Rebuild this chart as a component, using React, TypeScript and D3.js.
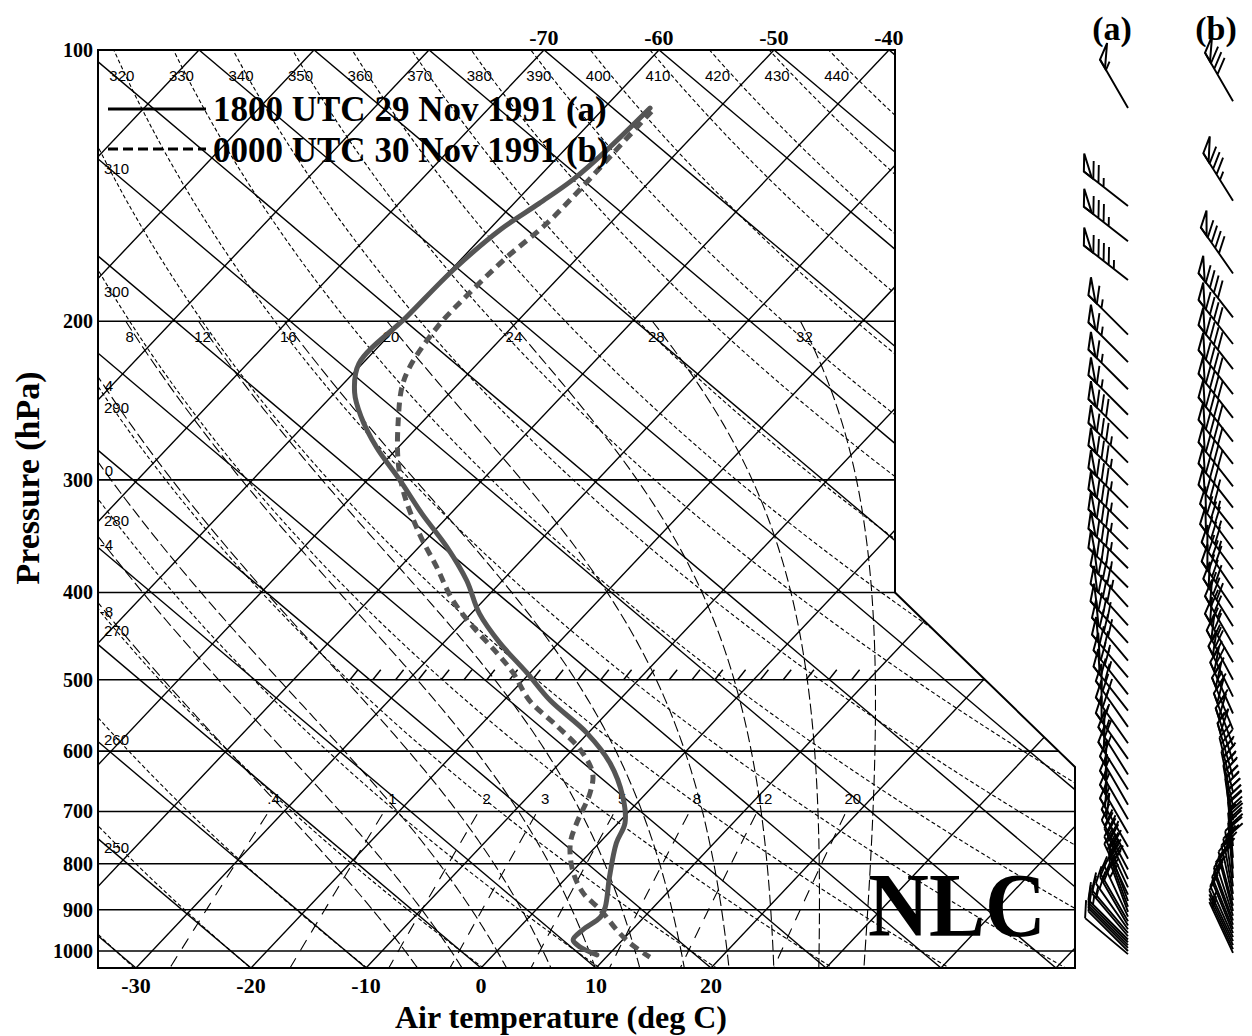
import * as d3 from 'd3';

// ---- sounding data ----
const pressureA = [116, 129, 139, 148, 158, 175, 198, 223, 240, 255, 276, 300, 327, 356, 388, 422, 455, 491, 527, 573, 619, 675, 721, 759, 828, 894, 917, 948, 972, 990, 1010];
const tempA = [-56.0, -56.3, -56.8, -57.8, -59.0, -59.8, -60.0, -60.3, -58.3, -55.8, -51.9, -47.2, -42.5, -37.6, -33.1, -29.3, -25.1, -20.3, -16.0, -10.1, -5.6, -1.7, 0.6, 1.5, 3.7, 5.8, 6.2, 5.7, 5.7, 6.9, 9.0];
const pressureB = [117, 130, 143, 156, 170, 186, 203, 225, 237, 257, 285, 310, 344, 375, 408, 437, 467, 491, 527, 561, 598, 635, 668, 721, 759, 813, 862, 900, 948, 980, 1016];
const tempB = [-55.6, -55.5, -55.4, -55.5, -56.2, -56.5, -56.5, -55.6, -54.6, -52.3, -49.0, -45.8, -41.1, -36.8, -32.7, -28.7, -24.5, -21.5, -17.8, -13.5, -9.3, -6.3, -4.9, -3.6, -2.5, -0.1, 2.7, 5.6, 8.7, 10.9, 13.8];

// winds (a) 1800 UTC and (b) 0000 UTC: pressure, direction (deg), speed (kt)
const windPA = [116, 149, 163, 180, 207, 222, 238, 254, 270, 287, 304, 322, 340, 358, 376, 395, 415, 435, 455, 476, 497, 519, 541, 564, 588, 612, 637, 662, 688, 714, 740, 766, 790, 812, 832, 850, 866, 880, 893, 905, 916, 927, 937, 946, 955, 963, 971, 978, 985, 992, 1000, 1008];
const windDirA = [330, 308, 308, 308, 315, 315, 315, 315, 315, 315, 315, 315, 315, 315, 315, 315, 318, 318, 318, 320, 320, 322, 322, 325, 325, 325, 328, 328, 330, 330, 330, 330, 332, 332, 335, 335, 335, 340, 340, 340, 335, 330, 330, 325, 320, 320, 315, 315, 315, 315, 315, 310];
const windSpdA = [55, 75, 85, 95, 65, 65, 65, 65, 80, 85, 85, 85, 85, 85, 85, 85, 85, 80, 80, 80, 75, 75, 70, 70, 65, 65, 60, 60, 55, 55, 55, 50, 50, 45, 40, 35, 30, 30, 25, 25, 25, 20, 20, 20, 15, 15, 15, 10, 10, 10, 10, 10];
const windPB = [114, 147, 177, 198, 212, 226, 241, 256, 272, 288, 305, 322, 340, 358, 377, 396, 416, 436, 457, 478, 500, 522, 545, 568, 592, 616, 641, 666, 691, 716, 741, 765, 788, 810, 830, 848, 864, 878, 891, 903, 914, 925, 935, 945, 955, 965, 975, 985, 995, 1005];
const windDirB = [330, 328, 325, 322, 322, 322, 322, 322, 322, 322, 322, 322, 322, 324, 324, 326, 326, 328, 330, 330, 332, 334, 336, 338, 340, 342, 344, 346, 348, 350, 352, 354, 355, 355, 355, 352, 350, 348, 345, 345, 342, 340, 340, 338, 338, 336, 335, 335, 335, 335];
const windSpdB = [80, 85, 90, 90, 90, 90, 90, 90, 90, 90, 90, 85, 85, 85, 85, 80, 80, 80, 75, 75, 70, 70, 65, 60, 60, 55, 50, 45, 45, 40, 40, 35, 35, 30, 30, 25, 25, 20, 20, 15, 15, 15, 10, 10, 10, 10, 10, 5, 5, 5];

// ---- chart furniture ----
const isobarLevels = [100, 200, 300, 400, 500, 600, 700, 800, 900, 1000];
const bottomTempTicks = [-30, -20, -10, 0, 10, 20];
const topTempTicks = [-70, -60, -50, -40];
const thetaLines = [240, 250, 260, 270, 280, 290, 300, 310, 320, 330, 340, 350, 360, 370, 380, 390, 400, 410, 420, 430, 440];
const thetaTopLabels = [320, 330, 340, 350, 360, 370, 380, 390, 400, 410, 420, 430, 440];
const thetaLeftLabels = [250, 260, 270, 280, 290, 300, 310];
const thetaWTop = [8, 12, 16, 20, 24, 28, 32];
const thetaWLeft = [-8, -4, 0, 4];
const mixRatios = [0.4, 1, 2, 3, 5, 8, 12, 20];

const W = 1252, H = 1036;
const X0 = 98, XR1 = 895, XR2 = 1075, YT = 50, YB = 968, YSTEP2 = 767;
const SKEW = 0.9455, SKEW2 = 1.184;
const yP = d3.scaleLog().domain([100, 1000]).range([50, 951]);
const xT = d3.scaleLinear().domain([-30, 20]).range([136, 711]);
const YSTEP = yP(400);
const P_BOT = yP.invert(YB);
const xy = (T: number, p: number): [number, number] => {
  const y = yP(p);
  return [xT(T) + SKEW * (YB - y), y];
};
const rightEdge = (y: number) =>
  y <= YSTEP ? XR1 : y >= YSTEP2 ? XR2 : XR1 + ((y - YSTEP) * (XR2 - XR1)) / (YSTEP2 - YSTEP);
const boundary: [number, number][] = [[X0, YT], [XR1, YT], [XR1, YSTEP], [XR2, YSTEP2], [XR2, YB], [X0, YB]];

const serif = "'Liberation Serif', 'Times New Roman', serif";
const sans = "'Liberation Sans', Arial, sans-serif";
const line = d3.line<[number, number]>();

function esat(tc: number) {
  return 6.112 * Math.exp((17.67 * tc) / (tc + 243.5));
}
function dTdp(T: number, p: number) {
  const Rd = 287.04, Cp = 1005.7, Lv = 2.501e6, eps = 0.622;
  const es = esat(T - 273.15);
  const rs = (eps * es) / (p - es);
  return ((Rd * T + Lv * rs) / p) / (Cp + (Lv * Lv * rs * eps) / (Rd * T * T));
}
function rk(T: number, p: number, h: number) {
  const k1 = dTdp(T, p);
  const k2 = dTdp(T + (h * k1) / 2, p + h / 2);
  const k3 = dTdp(T + (h * k2) / 2, p + h / 2);
  const k4 = dTdp(T + h * k3, p + h);
  return T + (h * (k1 + 2 * k2 + 2 * k3 + k4)) / 6;
}
function moistPts(tw: number): [number, number][] {
  const up: [number, number][] = [];
  let T = tw + 273.15, p = 1000;
  up.push([T, p]);
  while (p > 200.01) { T = rk(T, p, -5); p -= 5; up.push([T, p]); }
  const down: [number, number][] = [];
  T = tw + 273.15; p = 1000;
  while (p < P_BOT + 5) { T = rk(T, p, 5); p += 5; down.push([T, p]); }
  return [...up.reverse(), ...down].map(([t, pp]) => xy(t - 273.15, pp));
}
function dryPts(theta: number): [number, number][] {
  const pts: [number, number][] = [];
  for (let p = 95; p <= P_BOT + 5; p += 5) pts.push(xy(theta * Math.pow(p / 1000, 0.2857) - 273.15, p));
  return pts;
}
function tdFromW(w: number, p: number) {
  const e = (w * p) / (622 + w);
  const a = Math.log(e / 6.112);
  return (243.5 * a) / (17.67 - a);
}
function leftCross(pts: [number, number][]) {
  for (let i = 1; i < pts.length; i++) {
    if (pts[i - 1][0] < X0 && pts[i][0] >= X0) {
      const f = (X0 - pts[i - 1][0]) / (pts[i][0] - pts[i - 1][0]);
      return pts[i - 1][1] + f * (pts[i][1] - pts[i - 1][1]);
    }
  }
  return YT;
}

function Barb({ bx, by, dir, spd }: { bx: number; by: number; dir: number; spd: number }) {
  const r = (dir * Math.PI) / 180;
  const sx = Math.sin(r), sy = -Math.cos(r);
  const px = -sy, py = sx;
  const L = 56, bl = 18, gap = 6.5;
  const vx = (0.8 * px + 0.6 * sx) * bl, vy = (0.8 * py + 0.6 * sy) * bl;
  const at = (d: number) => [bx + sx * d, by + sy * d];
  let d = L;
  let rem = Math.round(spd / 5) * 5;
  let segs = `M${bx},${by}L${at(L).join(',')}`;
  const polys: string[] = [];
  while (rem >= 50) {
    const [ax, ay] = at(d);
    const [cx, cy] = at(d - 10);
    polys.push(`${ax},${ay} ${ax + vx},${ay + vy} ${cx},${cy}`);
    d -= 12;
    rem -= 50;
  }
  while (rem >= 10) {
    const [ax, ay] = at(d);
    segs += `M${ax},${ay}l${vx},${vy}`;
    d -= gap;
    rem -= 10;
  }
  if (rem >= 5) {
    if (d === L) d -= gap;
    const [ax, ay] = at(d);
    segs += `M${ax},${ay}l${vx / 2},${vy / 2}`;
  }
  return (
    <g>
      <path d={segs} fill="none" stroke="#000" strokeWidth={1.9} />
      {polys.map((pt, i) => (
        <polygon key={i} points={pt} fill="none" stroke="#000" strokeWidth={2} />
      ))}
    </g>
  );
}

export default function App() {
  const isoT = d3.range(-110, 60, 10);
  const downT = d3.range(-30, 140, 10);
  const profA = pressureA.map((p, i) => xy(tempA[i], p));
  const profB = pressureB.map((p, i) => xy(tempB[i], p));
  const curve = d3.line<[number, number]>().curve(d3.curveCatmullRom.alpha(0.5));
  const y500 = yP(500);
  const hatchX = d3.range(350, 866, 22.8);

  return (
    <div style={{ position: 'absolute', left: 0, top: 0 }}>
      <svg width={W} height={H} style={{ display: 'block', background: '#fff' }}>
        <defs>
          <clipPath id="plot">
            <polygon points={boundary.map((b) => b.join(',')).join(' ')} />
          </clipPath>
        </defs>
        <g clipPath="url(#plot)" fill="none" stroke="#000">
          {/* isobars */}
          {isobarLevels.slice(1).map((p) => (
            <line key={p} x1={X0} x2={rightEdge(yP(p))} y1={yP(p)} y2={yP(p)} strokeWidth={1.6} />
          ))}
          {/* isotherms */}
          {isoT.map((t) => (
            <line key={'it' + t} x1={xT(t)} y1={YB} x2={xT(t) + SKEW * (YB - YT)} y2={YT} strokeWidth={1.4} />
          ))}
          {/* cross lines */}
          {downT.map((t) => (
            <line key={'dt' + t} x1={xT(t)} y1={YB} x2={xT(t) - SKEW2 * (YB - YT)} y2={YT} strokeWidth={1.4} />
          ))}
          {/* dry adiabats */}
          {thetaLines.map((th) => (
            <path key={'th' + th} d={line(dryPts(th)) || ''} strokeWidth={1.1} strokeDasharray="4,2.5" />
          ))}
          {/* moist adiabats */}
          {[...thetaWLeft, ...thetaWTop].map((tw) => (
            <path key={'tw' + tw} d={line(moistPts(tw)) || ''} strokeWidth={1.1} strokeDasharray="11,4" />
          ))}
          {/* mixing ratio */}
          {mixRatios.map((w) => {
            const pts: [number, number][] = [];
            for (let p = 705; p <= P_BOT + 10; p += 10) pts.push(xy(tdFromW(w, p), p));
            return <path key={'w' + w} d={line(pts) || ''} strokeWidth={1.1} strokeDasharray="12,9" />;
          })}
          {/* hatched 500 hPa */}
          {hatchX.map((x, i) => (
            <line key={'h' + i} x1={x} y1={y500} x2={x + 8} y2={y500 - 10} strokeWidth={1.4} />
          ))}
        </g>
        <polygon points={boundary.map((b) => b.join(',')).join(' ')} fill="none" stroke="#000" strokeWidth={2} />

        {/* theta labels */}
        <g fontFamily={sans} fontSize={15} fill="#000">
          {thetaTopLabels.map((th) => (
            <text key={th} x={xy(th * Math.pow(0.1, 0.2857) - 273.15, 100)[0] + 8} y={81} textAnchor="middle">{th}</text>
          ))}
          {thetaLeftLabels.map((th) => (
            <text key={th} x={104} y={leftCross(dryPts(th)) + 27}>{th}</text>
          ))}
          {thetaWTop.map((tw) => {
            const pts = moistPts(tw);
            return <text key={tw} x={pts[0][0] + 4} y={yP(200) + 21} textAnchor="middle">{tw}</text>;
          })}
          {thetaWLeft.map((tw) => (
            <text key={tw} x={113} y={leftCross(moistPts(tw)) + 14} textAnchor="end">{tw}</text>
          ))}
          {mixRatios.map((w) => (
            <text key={w} x={xy(tdFromW(w, 676), 676)[0] + (w < 1 ? -4 : 0)} y={yP(676) + 6} textAnchor="middle">
              {w < 1 ? '.4' : w}
            </text>
          ))}
        </g>

        {/* profiles */}
        <path d={curve(profA) || ''} fill="none" stroke="#555" strokeWidth={5} strokeLinejoin="round" strokeLinecap="round" />
        <path d={curve(profB) || ''} fill="none" stroke="#555" strokeWidth={5} strokeDasharray="9,6" />

        {/* pressure labels */}
        <g fontFamily={serif} fontWeight="bold" fontSize={20} fill="#000">
          {isobarLevels.map((p) => (
            <text key={p} x={93} y={yP(p) + 7} textAnchor="end">{p}</text>
          ))}
        </g>
        <g fontFamily={serif} fontWeight="bold" fontSize={22} fill="#000">
          {bottomTempTicks.map((t) => (
            <text key={t} x={xT(t)} y={993} textAnchor="middle">{t}</text>
          ))}
          {topTempTicks.map((t) => (
            <text key={t} x={xT(t) + SKEW * (YB - YT)} y={45} textAnchor="middle">{t}</text>
          ))}
        </g>
        <text x={561} y={1028} textAnchor="middle" fontFamily={serif} fontWeight="bold" fontSize={32}>Air temperature (deg C)</text>
        <text transform="translate(39,478) rotate(-90)" textAnchor="middle" fontFamily={serif} fontWeight="bold" fontSize={34}>Pressure (hPa)</text>

        {/* legend */}
        <line x1={108} x2={206} y1={109} y2={109} stroke="#000" strokeWidth={3} />
        <line x1={108} x2={206} y1={149} y2={149} stroke="#000" strokeWidth={3} strokeDasharray="10,5" />
        <g fontFamily={serif} fontWeight="bold" fontSize={35} fill="#000">
          <text x={213} y={121}>1800 UTC 29 Nov 1991 (a)</text>
          <text x={213} y={162}>0000 UTC 30 Nov 1991 (b)</text>
        </g>
        <text x={868} y={936} fontFamily={serif} fontWeight="bold" fontSize={90} textLength={178} lengthAdjust="spacingAndGlyphs">NLC</text>

        {/* wind barbs */}
        <g fontFamily={serif} fontWeight="bold" fontSize={34}>
          <text x={1112} y={40} textAnchor="middle">(a)</text>
          <text x={1216} y={40} textAnchor="middle">(b)</text>
        </g>
        {windPA.map((p, i) => (
          <Barb key={'a' + i} bx={1128} by={yP(p)} dir={windDirA[i]} spd={windSpdA[i]} />
        ))}
        {windPB.map((p, i) => (
          <Barb key={'b' + i} bx={1233} by={yP(p)} dir={windDirB[i]} spd={windSpdB[i]} />
        ))}
      </svg>
    </div>
  );
}
